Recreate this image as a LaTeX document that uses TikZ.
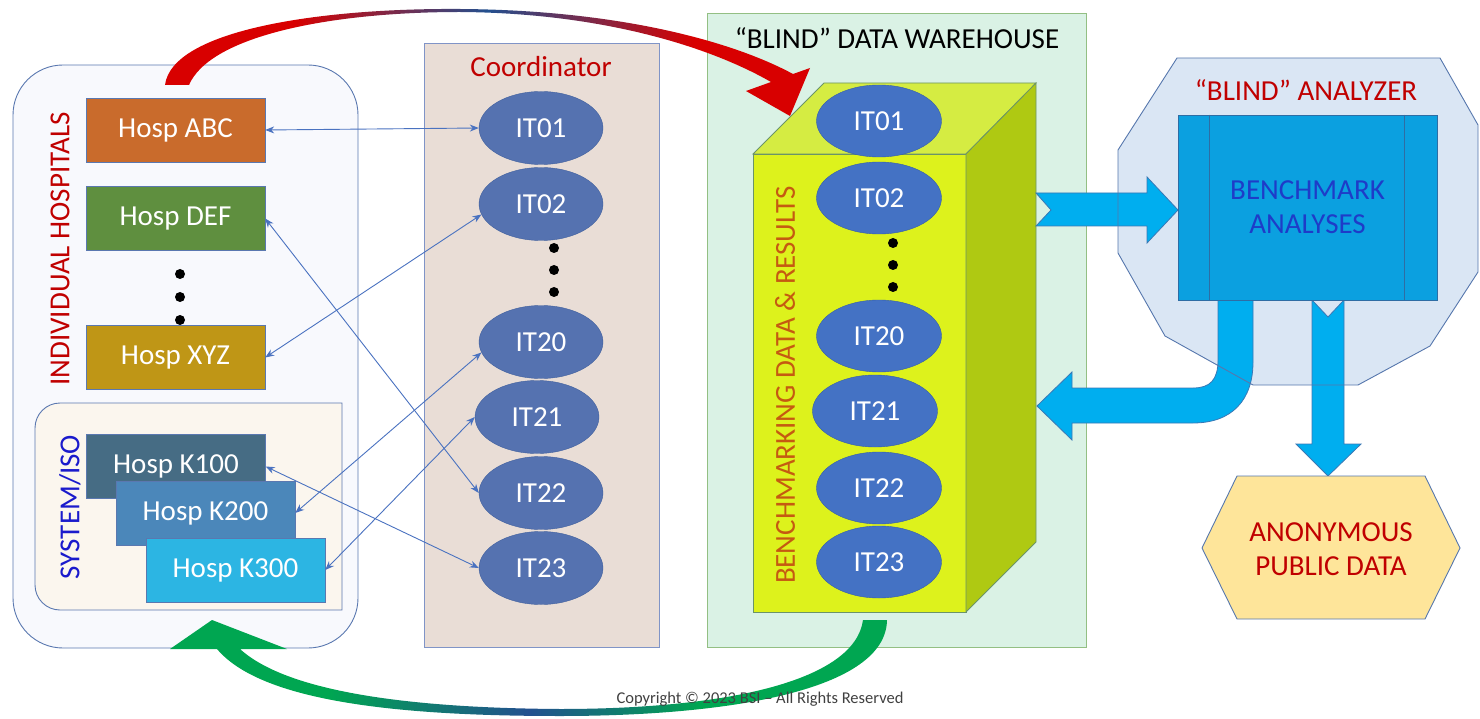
\documentclass[tikz,border=0pt]{standalone}
\usepackage{fontspec}
\setmainfont{Carlito}
\usetikzlibrary{shapes.geometric,arrows.meta}

\definecolor{vermelho}{HTML}{C00000}
\definecolor{sisazul}{HTML}{1A1ACC}
\definecolor{laranja}{HTML}{C55A11}
\definecolor{hospfundo}{HTML}{F8F9FD}
\definecolor{hospborda}{HTML}{5A78B0}
\definecolor{sisfundo}{HTML}{FBF6EE}
\definecolor{hospabc}{HTML}{C96B2C}
\definecolor{hospdef}{HTML}{5F8F3F}
\definecolor{hospxyz}{HTML}{BF9616}
\definecolor{hospk100}{HTML}{466C84}
\definecolor{hospk200}{HTML}{4B87BA}
\definecolor{hospk300}{HTML}{2CB5E3}
\definecolor{coordfundo}{HTML}{E9DDD6}
\definecolor{coordborda}{HTML}{8094C7}
\definecolor{itcfundo}{HTML}{5572B0}
\definecolor{itcborda}{HTML}{41609E}
\definecolor{armfundo}{HTML}{DAF2E5}
\definecolor{armborda}{HTML}{93BF83}
\definecolor{itafundo}{HTML}{4472C4}
\definecolor{itaborda}{HTML}{355EA8}
\definecolor{cubofrente}{HTML}{DDF21C}
\definecolor{cubotopo}{HTML}{D5EC42}
\definecolor{cubolado}{HTML}{AFC912}
\definecolor{cuboborda}{HTML}{6B9468}
\definecolor{analfundo}{HTML}{DAE6F4}
\definecolor{analborda}{HTML}{5677AD}
\definecolor{benchfundo}{HTML}{0BA0E0}
\definecolor{benchborda}{HTML}{2E6DA4}
\definecolor{benchtexto}{HTML}{1E3CC8}
\definecolor{setacor}{HTML}{00AEEF}
\definecolor{setaborda}{HTML}{3A78B5}
\definecolor{anonfundo}{HTML}{FEE59A}
\definecolor{ligcor}{HTML}{4A72C0}
\definecolor{azulescuro}{HTML}{23508F}
\definecolor{vermseta}{HTML}{D80000}
\definecolor{verde}{HTML}{00A651}

\pgfdeclarehorizontalshading{envio}{100bp}{color(0bp)=(vermseta); color(35bp)=(vermseta); color(50bp)=(azulescuro); color(66bp)=(vermseta); color(100bp)=(vermseta)}
\pgfdeclarehorizontalshading{retorno}{100bp}{color(0bp)=(verde); color(36bp)=(verde); color(50bp)=(azulescuro); color(62bp)=(verde); color(100bp)=(verde)}

\begin{document}
\begin{tikzpicture}[x=1pt, y=-1pt,
    every node/.style={font=\fontsize{29}{33}\selectfont},
    hosp/.style={draw=hospborda, minimum width=179pt, minimum height=64pt, inner sep=0pt, text=white},
    itcoord/.style={ellipse, draw=itcborda, fill=itcfundo, minimum width=124pt, minimum height=73pt, inner sep=0pt, text=white},
    itarmaz/.style={ellipse, draw=itaborda, fill=itafundo, minimum width=125pt, minimum height=72pt, inner sep=0pt, text=white},
    ponto/.style={circle, fill=black, minimum size=10pt, inner sep=0pt},
    ligacao/.style={draw=ligcor, line width=0.9pt, {Stealth[length=9pt,width=7pt]}-{Stealth[length=9pt,width=7pt]}},
    seta/.style={fill=setacor, draw=setaborda, line width=0.8pt}
  ]
  \useasboundingbox (0,0) rectangle (1480,719);

  % Hospitais
  \filldraw[fill=hospfundo, draw=hospborda, line width=0.9pt, rounded corners=50pt] (13,65) rectangle (358,648);
  \filldraw[fill=sisfundo, draw=hospborda, line width=0.9pt] (342,403) [rounded corners=25pt] -- (35,403) -- (35,610) [sharp corners] -- (342,610) -- cycle;

  \node[text=vermelho, rotate=90] (indtit) at (60,249) {INDIVIDUAL HOSPITALS};
  \node[text=sisazul, rotate=90] (sistit) at (70,507) {SYSTEM/ISO};

  \node[hosp, fill=hospabc] (abc) at (175.5,130) {Hosp ABC};
  \node[hosp, fill=hospdef] (def) at (175.5,218.5) {Hosp DEF};
  \node[hosp, fill=hospxyz] (xyz) at (175.5,357.5) {Hosp XYZ};

  \node[ponto] (hp1) at (180,274) {};
  \node[ponto] (hp2) at (180,297) {};
  \node[ponto] (hp3) at (180,320) {};

  \node[hosp, fill=hospk100] (k100) at (176,466.5) {Hosp K100};
  \node[hosp, fill=hospk200] (k200) at (205.5,513) {Hosp K200};
  \node[hosp, fill=hospk300] (k300) at (235.5,570) {Hosp K300};

  % Coordenador
  \filldraw[fill=coordfundo, draw=coordborda, line width=0.9pt] (424,43) rectangle (659,647);
  \node[text=vermelho] (coordtit) at (541,67) {Coordinator};

  \node[itcoord] (cit01) at (541,128) {IT01};
  \node[itcoord] (cit02) at (541,204) {IT02};
  \node[ponto] (cp1) at (554,248) {};
  \node[ponto] (cp2) at (554,270) {};
  \node[ponto] (cp3) at (554,292) {};
  \node[itcoord] (cit20) at (541,342) {IT20};
  \node[itcoord] (cit21) at (537,417) {IT21};
  \node[itcoord] (cit22) at (541,493) {IT22};
  \node[itcoord] (cit23) at (541,568) {IT23};

  % Ligacoes hospital -- codigo
  \draw[ligacao] (abc.east) -- (cit01.west);
  \draw[ligacao] (def.east) -- (cit22.west);
  \draw[ligacao] (xyz.east) -- (cit02.190);
  \draw[ligacao] (k100.east) -- (cit23.west);
  \draw[ligacao] (k200.east) -- (cit20.190);
  \draw[ligacao] (k300.east) -- (cit21.west);

  % Armazem de dados
  \filldraw[fill=armfundo, draw=armborda, line width=0.9pt] (707,13) rectangle (1086,647);
  \node (armtit) at (897,38) {“BLIND” DATA WAREHOUSE};

  % Seta vermelha (envio)
  \shade[shading=envio]
    (165,85) .. controls (172,30) and (320,8) .. (460,9)
    .. controls (615,10) and (730,40) .. (793,74)
    -- (810,68) -- (790,116) -- (746,91) -- (771,82)
    .. controls (712,48) and (605,13) .. (460,12)
    .. controls (330,12) and (210,36) .. (189,85) -- cycle;

  % Cubo
  \filldraw[fill=cubofrente, draw=cuboborda, line width=0.8pt] (753,154) rectangle (966,612);
  \filldraw[fill=cubotopo, draw=cuboborda, line width=0.8pt] (753,154) -- (824,83) -- (1036,83) -- (966,154) -- cycle;
  \filldraw[fill=cubolado, draw=cuboborda, line width=0.8pt] (966,154) -- (1036,83) -- (1036,542) -- (966,612) -- cycle;

  \node[text=laranja, rotate=90] (cubotit) at (785,385) {BENCHMARKING DATA \& RESULTS};

  \node[itarmaz] (ait01) at (879,121) {IT01};
  \node[itarmaz] (ait02) at (879,198) {IT02};
  \node[ponto] (ap1) at (893,243) {};
  \node[ponto] (ap2) at (893,265) {};
  \node[ponto] (ap3) at (893,287) {};
  \node[itarmaz] (ait20) at (879,336) {IT20};
  \node[itarmaz] (ait21) at (875,411) {IT21};
  \node[itarmaz] (ait22) at (879,488) {IT22};
  \node[itarmaz] (ait23) at (879,562) {IT23};

  % Analisador
  \fill[analfundo] (1177,58) -- (1440,58) -- (1478,125) -- (1478,272) -- (1430,346) -- (1358,385) -- (1253,385) -- (1165,336) -- (1118,253) -- (1118,150) -- cycle;
  \node[text=vermelho] (analtit) at (1306,90) {“BLIND” ANALYZER};

  % Setas azuis
  \filldraw[seta] (1036,193) -- (1147,193) -- (1147,177) -- (1178,210) -- (1147,243) -- (1147,226) -- (1036,226) -- (1051,210) -- cycle;
  \filldraw[seta] (1218,300) -- (1218,360) .. controls (1218,380) and (1210,388) .. (1193,388) -- (1072,388) -- (1072,372) -- (1037,406) -- (1072,440) -- (1072,423) -- (1193,423) .. controls (1232,423) and (1253,400) .. (1253,362) -- (1253,300) -- cycle;
  \filldraw[seta] (1312,300) -- (1328,317) -- (1344,300) -- (1344,444) -- (1361,444) -- (1328,476) -- (1296,444) -- (1312,444) -- cycle;

  \draw[analborda, line width=0.9pt] (1177,58) -- (1440,58) -- (1478,125) -- (1478,272) -- (1430,346) -- (1358,385) -- (1253,385) -- (1165,336) -- (1118,253) -- (1118,150) -- cycle;

  \node[draw=benchborda, fill=benchfundo, line width=0.9pt, minimum width=259pt, minimum height=185pt, inner sep=0pt, align=center, text=benchtexto, font=\fontsize{29}{34}\selectfont] (bench) at (1307.5,207.5) {BENCHMARK\\ANALYSES};
  \draw[benchborda, line width=0.9pt] ([xshift=32pt]bench.north west) -- ([xshift=32pt]bench.south west);
  \draw[benchborda, line width=0.9pt] ([xshift=-33pt]bench.north east) -- ([xshift=-33pt]bench.south east);

  % Dados publicos
  \filldraw[fill=anonfundo, draw=analborda, line width=0.9pt] (1237,476) -- (1425,476) -- (1460,548) -- (1425,619) -- (1237,619) -- (1202,548) -- cycle;
  \node[text=vermelho, align=center, font=\fontsize{29}{34}\selectfont] (anon) at (1331,549) {ANONYMOUS\\PUBLIC DATA};

  % Seta verde (retorno)
  \shade[shading=retorno]
    (170,649) -- (212,620) -- (287,649) -- (240,649)
    .. controls (285,690) and (400,708) .. (560,709)
    .. controls (730,709) and (855,680) .. (863,620)
    -- (887,620)
    .. controls (886,690) and (730,716) .. (560,716)
    .. controls (390,716) and (260,700) .. (217,649) -- cycle;

  \node[text=black!75, font=\fontsize{16.5}{18}\selectfont] (copy) at (760,699) {Copyright © 2023 BSI – All Rights Reserved};

\end{tikzpicture}
\end{document}
